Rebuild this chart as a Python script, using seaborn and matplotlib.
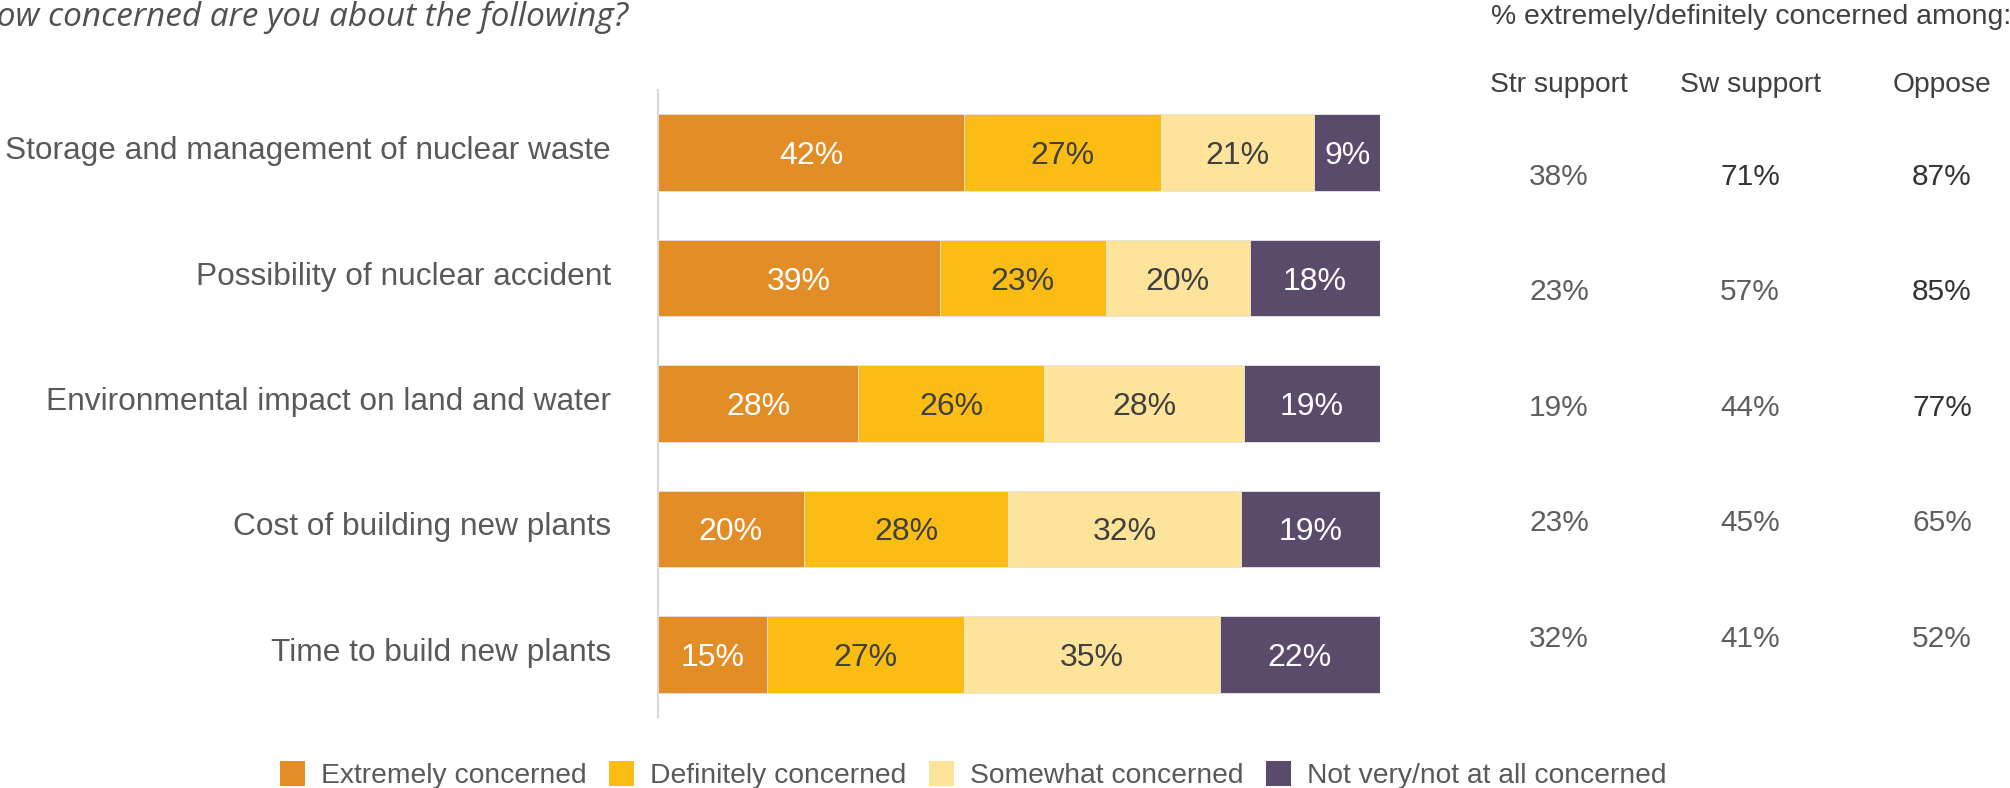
import matplotlib
matplotlib.use("Agg")
import matplotlib.pyplot as plt
import seaborn as sns
import pandas as pd
import numpy as np
from matplotlib.patches import Patch
from matplotlib.transforms import ScaledTranslation

# Survey items (top to bottom)
items = [
    "Storage and management of nuclear waste",
    "Possibility of nuclear accident",
    "Environmental impact on land and water",
    "Cost of building new plants",
    "Time to build new plants",
]
levels = [
    "Extremely concerned",
    "Definitely concerned",
    "Somewhat concerned",
    "Not very/not at all concerned",
]
extremely = [42, 39, 28, 20, 15]
definitely = [27, 23, 26, 28, 27]
somewhat = [21, 20, 28, 32, 35]
not_very = [9, 18, 19, 19, 22]

# % extremely/definitely concerned among each support group
groups = ["Str support", "Sw support", "Oppose"]
str_support = [38, 23, 19, 23, 32]
sw_support = [71, 57, 44, 45, 41]
oppose = [87, 85, 77, 65, 52]
highlight = [
    [False, True, True],
    [False, False, True],
    [False, False, True],
    [False, False, False],
    [False, False, False],
]

colors = ["#E38D26", "#FBBD13", "#FEE49B", "#5A4B6B"]
label_colors = ["white", "#404040", "#404040", "white"]

sns.set_theme(style="white")
plt.rcParams["font.family"] = ["Liberation Sans", "DejaVu Sans"]

W, H = 2010, 788
fig = plt.figure(figsize=(W / 100, H / 100), dpi=100)
ax = fig.add_axes([658 / W, 1 - 717 / H, 722 / W, 627 / H])

# 100% stacked shares per item
raw = np.array([extremely, definitely, somewhat, not_very], dtype=float)
shares = raw / raw.sum(axis=0) * 100
cum = np.cumsum(shares, axis=0)

df = pd.DataFrame({"item": items})
for k in range(len(levels) - 1, -1, -1):
    df["cum"] = cum[k]
    sns.barplot(data=df, x="cum", y="item", orient="h", color=colors[k],
                width=0.61, edgecolor="#e6e6e6", linewidth=0.6,
                saturation=1, ax=ax)

for k in range(len(levels)):
    for i in range(len(items)):
        xc = cum[k][i] - shares[k][i] / 2
        ax.text(xc, i, f"{int(raw[k][i])}%", ha="center", va="center_baseline",
                fontsize=23, color=label_colors[k])

ax.set_xlim(0, 100)
ax.set_ylim(len(items) - 0.5, -0.5)
ax.set_xlabel("")
ax.set_ylabel("")
ax.set_xticks([])
for s in ["top", "right", "bottom"]:
    ax.spines[s].set_visible(False)
ax.spines["left"].set_color("#d9d9d9")
ax.spines["left"].set_linewidth(1.5)
ax.tick_params(axis="y", length=0, pad=34, labelsize=22.8, labelcolor="#595959")
lift = ScaledTranslation(0, 5 / 100, fig.dpi_scale_trans)
for lab in ax.get_yticklabels():
    lab.set_transform(lab.get_transform() + lift)

# Title (question wording)
fig.text(628 / W, 1 - 17 / H, "How concerned are you about the following?",
         ha="right", va="center", fontsize=24, style="italic",
         color="#505050", family=["Open Sans", "DejaVu Sans"])

# Right-hand table
fig.text(1491 / W, 1 - 17 / H, "% extremely/definitely concerned among:",
         ha="left", va="center", fontsize=20.4, color="#404040")
col_x = [1559 / W, 1750 / W, 1942 / W]
for gx, g in zip(col_x, groups):
    fig.text(gx, 1 - 85 / H, g, ha="center", va="center", fontsize=20.3,
             color="#404040")
cols = [str_support, sw_support, oppose]
for j, (gx, vals) in enumerate(zip(col_x, cols)):
    for i, v in enumerate(vals):
        c = "#333333" if highlight[i][j] else "#5e5e5e"
        fig.text(gx, 1 - (177 + 115.4 * i) / H, f"{v}%", ha="center",
                 va="center", fontsize=21.5, color=c)

# Legend
handles = [Patch(facecolor=c, edgecolor="none") for c in colors]
fig.legend(handles, levels, loc="center", bbox_to_anchor=(973 / W, 1 - 775 / H),
           ncol=4, frameon=False, fontsize=20.3, labelcolor="#595959",
           handlelength=0.9, handleheight=1.0, handletextpad=0.55,
           columnspacing=0.8, borderpad=0, borderaxespad=0)

fig.savefig("out.png", dpi=100)
